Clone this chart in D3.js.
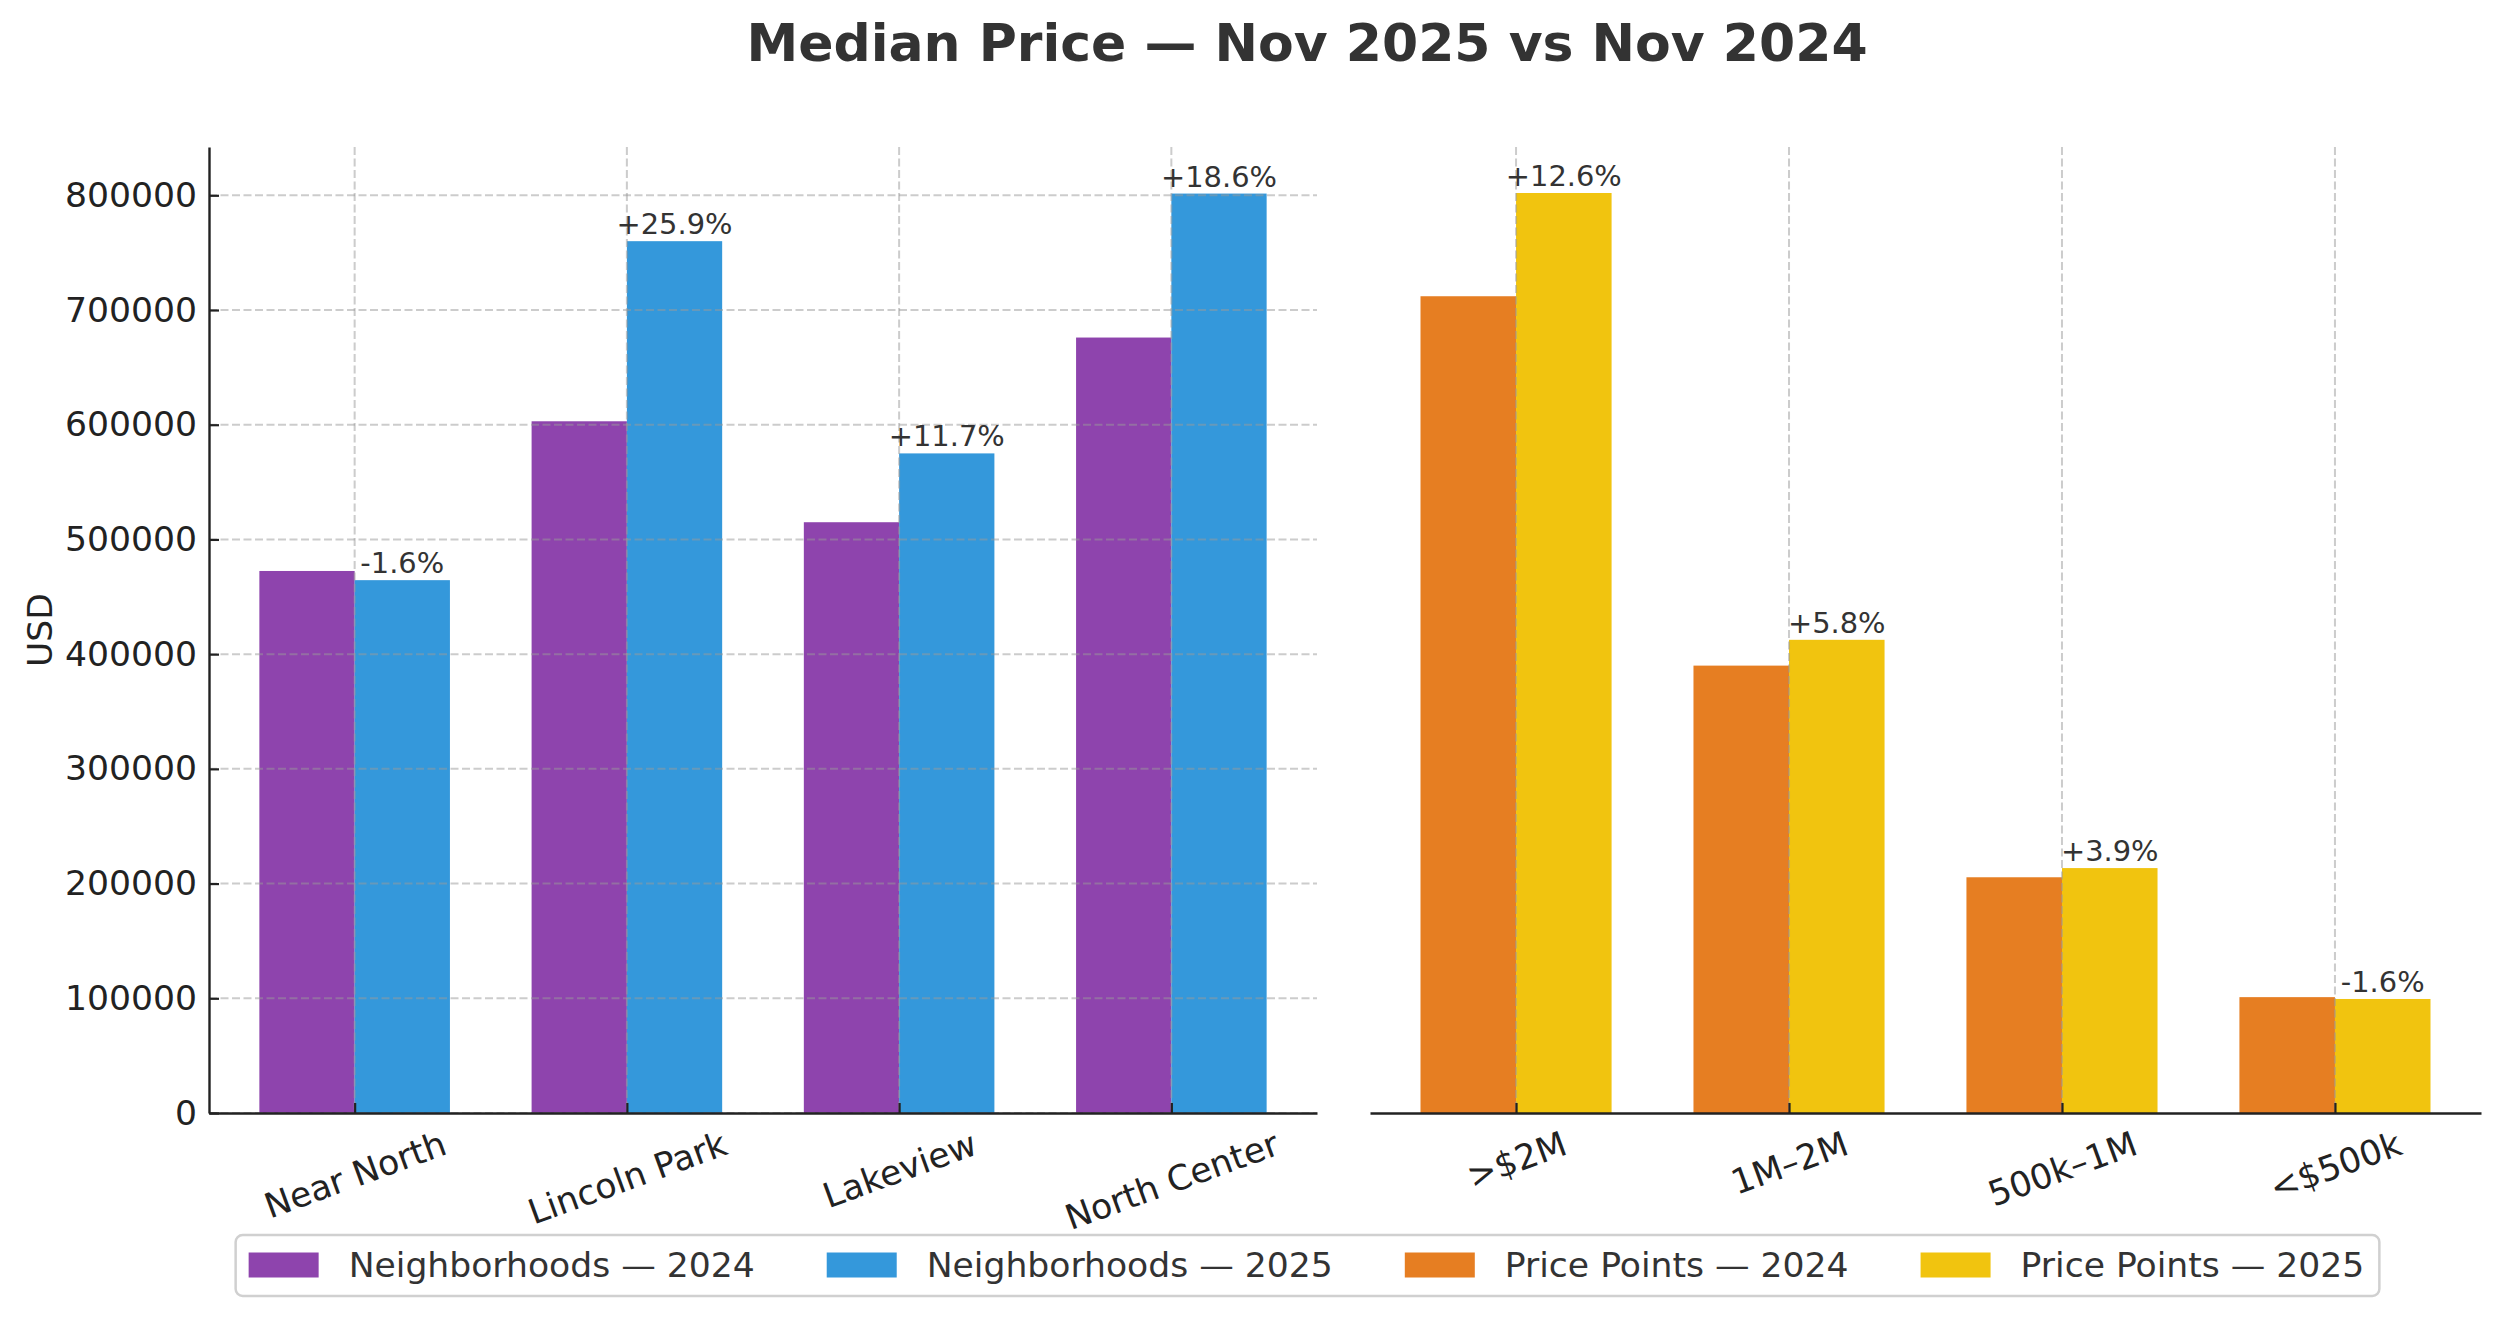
<!DOCTYPE html>
<html>
<head>
<meta charset="utf-8">
<script src="https://cdn.jsdelivr.net/npm/d3@7"></script>
<style>
  body { margin: 0; background: #fff; }
  svg { display: block; font-family: "DejaVu Sans", sans-serif; }
</style>
</head>
<body>
<div id="chart"></div>
<script>
// values
const neighborhoods = ["Near North", "Lincoln Park", "Lakeview", "North Center"];
const nbhd2024 = [472500, 603000, 515000, 676000];
const nbhd2025 = [464500, 760000, 575000, 801500];
const nbhdChange = ["-1.6%", "+25.9%", "+11.7%", "+18.6%"];

const pricePoints = [">$2M", "1M–2M", "500k–1M", "<$500k"];
const pp2024 = [712000, 390000, 205500, 101000];
const pp2025 = [802000, 412500, 213500, 99400];
const ppChange = ["+12.6%", "+5.8%", "+3.9%", "-1.6%"];

const yTickValues = [0, 100000, 200000, 300000, 400000, 500000, 600000, 700000, 800000];
const legendLabels = ["Neighborhoods — 2024", "Neighborhoods — 2025", "Price Points — 2024", "Price Points — 2025"];

const chartTitle = "Median Price — Nov 2025 vs Nov 2024";
const yLabel = "USD";

// styling
const palette = ["#8e44ad", "#3498db", "#e67e22", "#f1c40f"];
const W = 2500, H = 1318;
const plotTop = 147, plotBottom = 1113;
const barW = 0.35;
const fs = 34.6;      // 12pt
const fsSmall = 28.9; // 10pt

const svg = d3.select("#chart").append("svg")
  .attr("width", W)
  .attr("height", H);

const allValues = nbhd2024.concat(nbhd2025, pp2024, pp2025);
const y = d3.scaleLinear()
  .domain([0, d3.max(allValues) * 1.05])
  .range([plotBottom, plotTop]);

const panels = [
  { cats: neighborhoods, a: nbhd2024, b: nbhd2025, change: nbhdChange,
    colors: [palette[0], palette[1]], x0: 209, x1: 1317, yAxis: true },
  { cats: pricePoints, a: pp2024, b: pp2025, change: ppChange,
    colors: [palette[2], palette[3]], x0: 1370, x1: 2481, yAxis: false }
];

function drawPanel(p) {
  const n = p.cats.length;
  // bars span [-barW, n-1+barW], matplotlib adds 5% margins
  const lo = -barW, hi = n - 1 + barW, pad = (hi - lo) * 0.05;
  const x = d3.scaleLinear().domain([lo - pad, hi + pad]).range([p.x0, p.x1]);
  const g = svg.append("g");

  const rows = p.cats.map((c, i) => ({ i: i, a: p.a[i], b: p.b[i], change: p.change[i] }));

  // bars
  g.selectAll("rect.a").data(rows).enter().append("rect")
    .attr("class", "a")
    .attr("x", d => x(d.i - barW))
    .attr("y", d => y(d.a))
    .attr("width", d => x(d.i) - x(d.i - barW))
    .attr("height", d => y(0) - y(d.a))
    .attr("fill", p.colors[0]);

  g.selectAll("rect.b").data(rows).enter().append("rect")
    .attr("class", "b")
    .attr("x", d => x(d.i))
    .attr("y", d => y(d.b))
    .attr("width", d => x(d.i + barW) - x(d.i))
    .attr("height", d => y(0) - y(d.b))
    .attr("fill", p.colors[1]);

  // grid (drawn over the bars like the reference)
  const grid = g.append("g").attr("class", "grid")
    .attr("stroke", "#999").attr("stroke-opacity", 0.5)
    .attr("stroke-width", 2).attr("stroke-dasharray", "8,3.5");
  if (p.yAxis) {
    grid.selectAll("line.h").data(yTickValues).enter().append("line")
      .attr("x1", p.x0).attr("x2", p.x1)
      .attr("y1", d => y(d)).attr("y2", d => y(d));
  }
  grid.selectAll("line.v").data(rows).enter().append("line")
    .attr("x1", d => x(d.i)).attr("x2", d => x(d.i))
    .attr("y1", plotTop).attr("y2", plotBottom);

  // x axis, ticks pointing inward
  const xAxis = g.append("g")
    .attr("transform", "translate(0," + plotBottom + ")")
    .call(d3.axisBottom(x)
      .tickValues(d3.range(n))
      .tickFormat(i => p.cats[i])
      .tickSizeInner(-10).tickSizeOuter(0).tickPadding(0))
    .attr("font-family", null)
    .attr("font-size", null);
  xAxis.select(".domain").attr("stroke", "#222").attr("stroke-width", 2.4);
  xAxis.selectAll(".tick line").attr("stroke", "#222").attr("stroke-width", 2.2);
  xAxis.selectAll(".tick text")
    .attr("fill", "#222")
    .style("font-size", fs + "px")
    .attr("text-anchor", "middle")
    .attr("y", 0)
    .attr("dy", "0.35em")
    .attr("transform", function() {
      const w = this.getComputedTextLength();
      const a = 20 * Math.PI / 180;
      const bh = w * Math.sin(a) + 26 * Math.cos(a);
      return "translate(0," + (17 + bh / 2) + ") rotate(-20)";
    });

  if (p.yAxis) {
    const yAxis = g.append("g")
      .attr("transform", "translate(" + p.x0 + ",0)")
      .call(d3.axisLeft(y)
        .tickValues(yTickValues)
        .tickFormat(d3.format("d"))
        .tickSizeInner(-10).tickSizeOuter(0).tickPadding(12))
      .attr("font-family", null)
      .attr("font-size", null);
    yAxis.select(".domain").attr("stroke", "#222").attr("stroke-width", 2.4);
    yAxis.selectAll(".tick line").attr("stroke", "#222").attr("stroke-width", 2.2);
    yAxis.selectAll(".tick text").attr("fill", "#222").style("font-size", fs + "px");
  }

  // percent change labels above the 2025 bars
  g.selectAll("text.chg").data(rows).enter().append("text")
    .attr("class", "chg")
    .attr("x", d => x(d.i + barW / 2))
    .attr("y", d => y(d.b) - 7)
    .attr("text-anchor", "middle")
    .attr("fill", "#333")
    .style("font-size", fsSmall + "px")
    .text(d => d.change);
}

panels.forEach(drawPanel);

// title
svg.append("text")
  .attr("x", 1307).attr("y", 61)
  .attr("text-anchor", "middle")
  .attr("fill", "#333")
  .style("font-size", "52px")
  .style("font-weight", "bold")
  .text(chartTitle);

// y label
svg.append("text")
  .attr("transform", "translate(40," + ((plotTop + plotBottom) / 2) + ") rotate(-90)")
  .attr("text-anchor", "middle")
  .attr("dy", "0.35em")
  .attr("fill", "#222")
  .style("font-size", fs + "px")
  .text(yLabel);

// legend
const legend = svg.append("g");
const frame = legend.append("rect");
const swW = 70, swH = 25, swGap = 30, colGap = 72, padL = 13, padR = 15;
const items = legend.selectAll("g.item").data(legendLabels).enter().append("g").attr("class", "item");
items.append("rect")
  .attr("width", swW).attr("height", swH)
  .attr("y", -swH / 2)
  .attr("fill", (d, i) => palette[i]);
items.append("text")
  .attr("x", swW + swGap)
  .attr("dy", "0.35em")
  .attr("fill", "#333")
  .style("font-size", fs + "px")
  .text(d => d);

let cursor = padL;
items.each(function() {
  const tw = d3.select(this).select("text").node().getComputedTextLength();
  d3.select(this).attr("transform", "translate(" + cursor + ",0)");
  cursor += swW + swGap + tw + colGap;
});
const legendW = cursor - colGap + padR;
const legendCx = 1307.5, legendCy = 1265;
legend.attr("transform", "translate(" + (legendCx - legendW / 2) + "," + legendCy + ")");
frame.attr("x", 0).attr("y", -30).attr("width", legendW).attr("height", 61)
  .attr("rx", 7)
  .attr("fill", "#fff")
  .attr("stroke", "#d0d0d0")
  .attr("stroke-width", 2.5);
</script>
</body>
</html>
